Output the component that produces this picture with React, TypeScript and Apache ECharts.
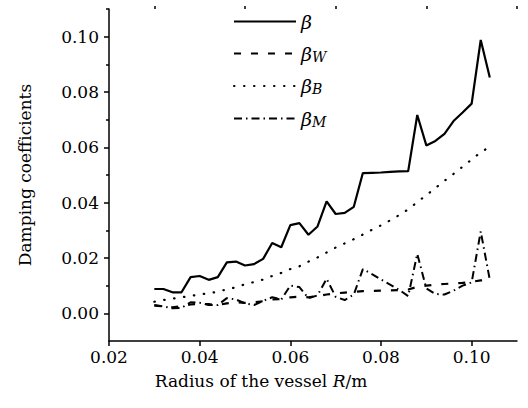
import React, { useEffect, useRef } from 'react';
import * as echarts from 'echarts';

// Vessel radius R (m)
const radius = [
  0.030, 0.032, 0.034, 0.036, 0.038, 0.040, 0.042, 0.044, 0.046, 0.048,
  0.050, 0.052, 0.054, 0.056, 0.058, 0.060, 0.062, 0.064, 0.066, 0.068,
  0.070, 0.072, 0.074, 0.076, 0.078, 0.080, 0.082, 0.084, 0.086, 0.088,
  0.090, 0.092, 0.094, 0.096, 0.098, 0.100, 0.102, 0.104,
];

// Total damping coefficient
const beta = [
  0.0088, 0.0088, 0.0076, 0.0076, 0.0131, 0.0135, 0.0121, 0.0131, 0.0184, 0.0187,
  0.0173, 0.0178, 0.0197, 0.0254, 0.0239, 0.0319, 0.0326, 0.0284, 0.0314, 0.0405,
  0.0359, 0.0363, 0.0385, 0.0507, 0.0508, 0.0509, 0.0511, 0.0513, 0.0514, 0.0717,
  0.0607, 0.0623, 0.0649, 0.0695, 0.0726, 0.0758, 0.0988, 0.0852,
];

// Wall component
const betaW = [
  0.0028, 0.0025, 0.0022, 0.0026, 0.0032, 0.0035, 0.0033, 0.0030, 0.0036, 0.0040,
  0.0038, 0.0040, 0.0044, 0.0050, 0.0052, 0.0058, 0.0060, 0.0058, 0.0062, 0.0068,
  0.0072, 0.0075, 0.0078, 0.0080, 0.0081, 0.0082, 0.0083, 0.0084, 0.0086, 0.0096,
  0.0100, 0.0104, 0.0106, 0.0108, 0.0110, 0.0114, 0.0119, 0.0121,
];

// Bulk component
const betaB = [
  0.0042, 0.0048, 0.0053, 0.0058, 0.0063, 0.0068, 0.0073, 0.0078, 0.0087, 0.0094,
  0.0105, 0.0113, 0.0122, 0.0135, 0.0146, 0.0160, 0.0170, 0.0187, 0.0202, 0.0220,
  0.0238, 0.0253, 0.0268, 0.0285, 0.0302, 0.0318, 0.0336, 0.0355, 0.0376, 0.0402,
  0.0427, 0.0453, 0.0479, 0.0504, 0.0530, 0.0556, 0.0582, 0.0602,
];

// Meniscus component
const betaM = [
  0.0030, 0.0025, 0.0018, 0.0020, 0.0040, 0.0038, 0.0030, 0.0030, 0.0055, 0.0050,
  0.0036, 0.0030, 0.0045, 0.0058, 0.0050, 0.0100, 0.0095, 0.0055, 0.0065, 0.0125,
  0.0060, 0.0048, 0.0068, 0.0160, 0.0142, 0.0122, 0.0104, 0.0085, 0.0062, 0.0215,
  0.0090, 0.0070, 0.0068, 0.0082, 0.0100, 0.0112, 0.0296, 0.0121,
];

const xTicks = [0.02, 0.04, 0.06, 0.08, 0.1];
const xMinorTicks = [0.03, 0.05, 0.07, 0.09, 0.11];
const yTicks = [0, 0.02, 0.04, 0.06, 0.08, 0.1];
const yMinorTicks = [0.01, 0.03, 0.05, 0.07, 0.09, 0.11];

const SERIF = 'DejaVu Serif';
const INK = '#000';

const pairs = (ys: number[]) => radius.map((x, i) => [x, ys[i]]);

const legendLabel = (name: string) =>
  name.length === 1 ? '{g|β}' : `{g|β}{s|${name.slice(1)}}`;

export default function App() {
  const ref = useRef<HTMLDivElement>(null);

  useEffect(() => {
    const chart = echarts.init(ref.current!, null, { renderer: 'svg' });
    const tickLine = { color: INK, width: 1.5 };
    const labelStyle = {
      color: INK,
      fontFamily: SERIF,
      fontSize: 17,
    };

    chart.setOption({
      animation: false,
      backgroundColor: '#fff',
      color: [INK],
      grid: { left: 109, right: 11, top: 9, bottom: 67, containLabel: false },
      legend: {
        orient: 'vertical',
        left: 228,
        top: 7,
        itemWidth: 62,
        itemHeight: 20,
        itemGap: 13,
        data: ['β', 'βW', 'βB', 'βM'],
        formatter: legendLabel,
        // only the line sample, no marker on it
        itemStyle: { opacity: 0, borderWidth: 0 },
        textStyle: {
          color: INK,
          rich: {
            g: {
              fontFamily: SERIF,
              fontStyle: 'italic',
              fontSize: 19,
              lineHeight: 20,
              color: INK,
            },
            s: {
              fontFamily: SERIF,
              fontStyle: 'italic',
              fontSize: 14,
              lineHeight: 10,
              verticalAlign: 'bottom',
              color: INK,
            },
          },
        },
      },
      xAxis: [
        {
          type: 'value',
          min: 0.02,
          max: 0.11,
          axisLine: { show: true, onZero: false, lineStyle: tickLine },
          axisTick: { show: true, length: 5, customValues: xTicks, lineStyle: tickLine },
          axisLabel: {
            ...labelStyle,
            margin: 7,
            customValues: xTicks,
            formatter: (v: number) => v.toFixed(2),
          },
          splitLine: { show: false },
          name: '{n|Radius of the vessel }{i|R}{n|/m}',
          nameLocation: 'middle',
          nameGap: 31,
          nameTextStyle: {
            padding: [0, 104, 0, 0],
            rich: {
              n: { fontFamily: SERIF, fontSize: 17, color: INK },
              i: { fontFamily: SERIF, fontSize: 17, fontStyle: 'italic', color: INK },
            },
          },
        },
        {
          type: 'value',
          min: 0.02,
          max: 0.11,
          axisLine: { show: false, onZero: false },
          axisTick: { show: true, length: 3, customValues: xMinorTicks, lineStyle: tickLine },
          axisLabel: { show: false },
          splitLine: { show: false },
        },
      ],
      yAxis: [
        {
          type: 'value',
          min: -0.01,
          max: 0.11,
          axisLine: { show: true, onZero: false, lineStyle: tickLine },
          axisTick: { show: true, length: 5, customValues: yTicks, lineStyle: tickLine },
          axisLabel: {
            ...labelStyle,
            margin: 10,
            customValues: yTicks,
            formatter: (v: number) => v.toFixed(2),
          },
          splitLine: { show: false },
          name: 'Damping coefficients',
          nameLocation: 'middle',
          nameGap: 76,
          nameTextStyle: { fontFamily: SERIF, fontSize: 17, color: INK },
        },
        {
          type: 'value',
          min: -0.01,
          max: 0.11,
          position: 'left',
          axisLine: { show: false, onZero: false },
          axisTick: { show: true, length: 3, customValues: yMinorTicks, lineStyle: tickLine },
          axisLabel: { show: false },
          splitLine: { show: false },
        },
      ],
      series: [
        {
          name: 'β',
          type: 'line',
          data: pairs(beta),
          symbol: 'none',
          lineStyle: { color: INK, width: 2.2 },
        },
        {
          name: 'βW',
          type: 'line',
          data: pairs(betaW),
          symbol: 'none',
          lineStyle: { color: INK, width: 2.2, type: [7, 10] },
        },
        {
          name: 'βB',
          type: 'line',
          data: pairs(betaB),
          symbol: 'none',
          lineStyle: { color: INK, width: 2.2, type: [0.5, 9.5], cap: 'round' },
        },
        {
          name: 'βM',
          type: 'line',
          data: pairs(betaM),
          symbol: 'none',
          lineStyle: { color: INK, width: 2, type: [8, 4, 1.5, 4] },
        },
      ],
    });

    return () => chart.dispose();
  }, []);

  return (
    <div
      ref={ref}
      style={{ position: 'fixed', left: 0, top: 0, width: 528, height: 408 }}
    />
  );
}
